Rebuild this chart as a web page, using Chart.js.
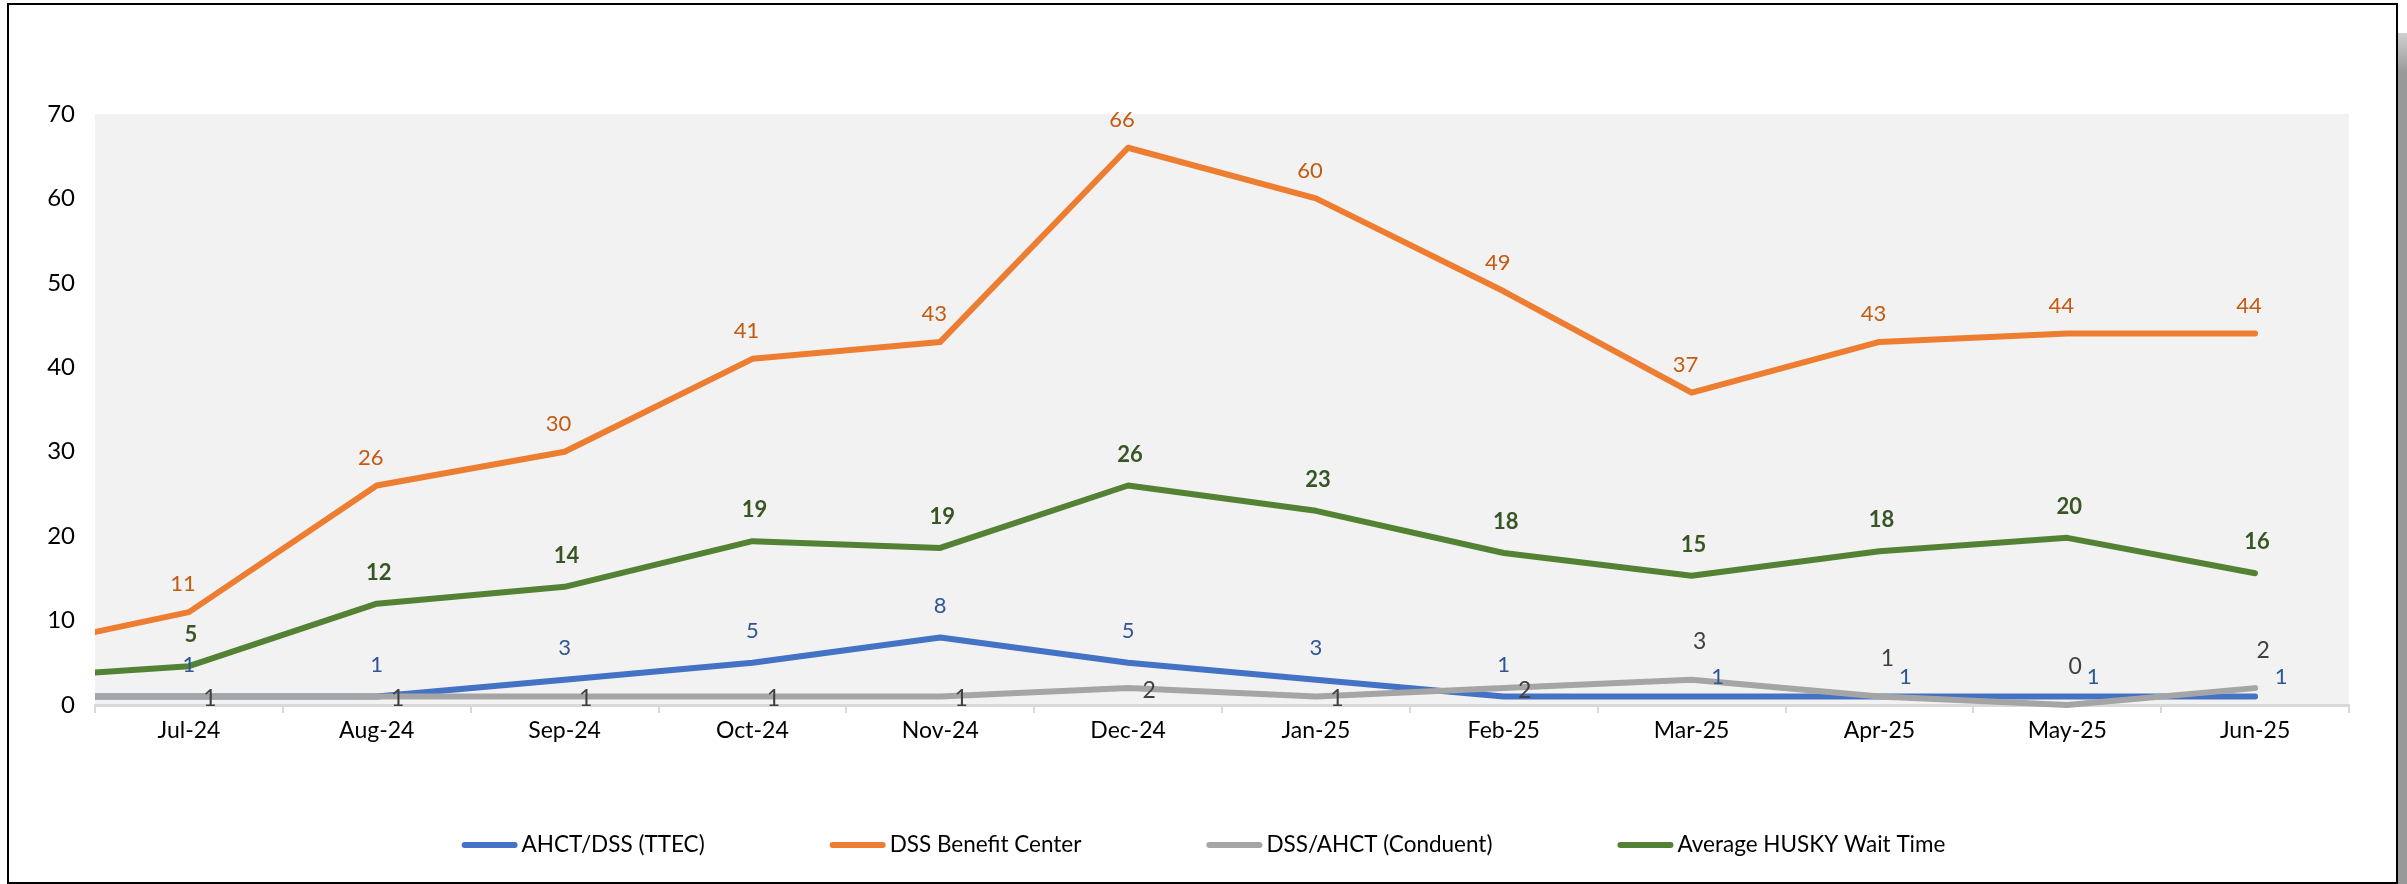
<!DOCTYPE html>
<html>
<head>
<meta charset="utf-8">
<script src="https://cdn.jsdelivr.net/npm/chart.js@4.4.1/dist/chart.umd.min.js"></script>
<style>
  html, body { margin: 0; padding: 0; background: #fff; }
  #frame { position: absolute; left: 7px; top: 3px; width: 2387px; height: 877px; border: 2px solid #000; }
  #shadow { position: absolute; left: 2398px; top: 33px; width: 9px; height: 851px; background: linear-gradient(#d0d0d0, #999 40px, #999); }
  #wrap { position: absolute; left: 0; top: 0; width: 2407px; height: 884px; }
</style>
</head>
<body>
<div id="frame"></div>
<div id="shadow"></div>
<div id="wrap"><canvas id="chart"></canvas></div>
<script>
// first month sits just off the left edge, only its line segment shows
const months = ['Jun-24', 'Jul-24', 'Aug-24', 'Sep-24', 'Oct-24', 'Nov-24', 'Dec-24',
                'Jan-25', 'Feb-25', 'Mar-25', 'Apr-25', 'May-25', 'Jun-25']
const ahctDss = [1, 1, 1, 3, 5, 8, 5, 3, 1, 1, 1, 1, 1]
const dssBenefitCenter = [6.3, 11, 26, 30, 41, 43, 66, 60, 49, 37, 43, 44, 44]
const dssConduent = [1, 1, 1, 1, 1, 1, 2, 1, 2, 3, 1, 0, 2]
const huskyWait = [3.1, 4.6, 12, 14, 19.4, 18.6, 26, 23, 18, 15.3, 18.2, 19.8, 15.6]
const seriesNames = ['AHCT/DSS (TTEC)', 'DSS Benefit Center', 'DSS/AHCT (Conduent)', 'Average HUSKY Wait Time']
const yMin = 0
const yMax = 70
const yStep = 10

const FONT = 'Lato, "Open Sans", sans-serif'

// fill plot area grey
const plotBg = {
    id: 'plotBg',
    beforeDraw(chart) {
        const {ctx, chartArea: a} = chart
        ctx.save()
        ctx.fillStyle = '#f2f2f2'
        ctx.fillRect(a.left, a.top, a.right - a.left, a.bottom - a.top)
        ctx.restore()
    }
}

// value labels next to each point
const valueLabels = {
    id: 'valueLabels',
    afterDatasetsDraw(chart) {
        const {ctx, chartArea: a} = chart
        chart.data.datasets.forEach((ds, i) => {
            const meta = chart.getDatasetMeta(i)
            const st = ds.labelStyle
            ctx.save()
            ctx.font = st.font
            ctx.fillStyle = st.color
            ctx.textAlign = 'center'
            ctx.textBaseline = 'middle'
            meta.data.forEach((pt, j) => {
                if (pt.x < a.left || pt.x > a.right) return
                let dx = st.dx, dy = st.dy
                if (st.later && j >= st.later.from) {
                    dx = st.later.dx
                    dy = st.later.dy
                }
                ctx.fillText(String(Math.round(ds.data[j])), pt.x + dx, pt.y + dy)
            })
            ctx.restore()
        })
    }
}

// legend row drawn by hand so the gaps match
const lineLegend = {
    id: 'lineLegend',
    afterDraw(chart) {
        const ctx = chart.ctx
        const sets = chart.data.datasets
        const lineLen = 56, gapText = 4, gapItem = 125, y = 845
        ctx.save()
        ctx.font = '22.5px ' + FONT
        const widths = sets.map(ds => ctx.measureText(ds.label).width)
        let total = widths.reduce((s, w) => s + w + lineLen + gapText, 0) + gapItem * (sets.length - 1)
        let x = chart.width / 2 - total / 2
        sets.forEach((ds, i) => {
            ctx.strokeStyle = ds.borderColor
            ctx.lineWidth = 6
            ctx.lineCap = 'round'
            ctx.beginPath()
            ctx.moveTo(x + 3, y)
            ctx.lineTo(x + lineLen - 3, y)
            ctx.stroke()
            ctx.fillStyle = '#000'
            ctx.textBaseline = 'middle'
            ctx.fillText(ds.label, x + lineLen + gapText, y)
            x += lineLen + gapText + widths[i] + gapItem
        })
        ctx.restore()
    }
}

function makeSet(name, values, color, order, labelStyle) {
    return {
        label: name,
        data: values,
        borderColor: color,
        backgroundColor: color,
        borderWidth: 6,
        borderCapStyle: 'round',
        borderJoinStyle: 'round',
        pointRadius: 0,
        tension: 0,
        order: order,
        clip: {left: 0, right: 0, top: 10, bottom: 10},
        labelStyle: labelStyle
    }
}

window.addEventListener('load', () => {
    const ctx = document.getElementById('chart').getContext('2d')
    new Chart(ctx, {
        type: 'line',
        data: {
            labels: months,
            datasets: [
                makeSet(seriesNames[0], ahctDss, '#4472c4', 3,
                    {font: '22px ' + FONT, color: '#2f5597', dx: 0, dy: -32,
                     later: {from: 9, dx: 26, dy: -20}}),
                makeSet(seriesNames[1], dssBenefitCenter, '#ed7d31', 2,
                    {font: '22px ' + FONT, color: '#c55a11', dx: -6, dy: -28}),
                makeSet(seriesNames[2], dssConduent, '#a5a5a5', 1,
                    {font: '23px ' + FONT, color: '#404040', dx: 21, dy: 2,
                     later: {from: 9, dx: 8, dy: -38}}),
                makeSet(seriesNames[3], huskyWait, '#548235', 0,
                    {font: 'bold 22px ' + FONT, color: '#375623', dx: 2, dy: -31})
            ]
        },
        options: {
            responsive: true,
            maintainAspectRatio: false,
            animation: false,
            layout: {padding: {top: 114, left: 0, right: 58, bottom: 119}},
            plugins: {
                legend: {display: false},
                tooltip: {enabled: false}
            },
            scales: {
                x: {
                    min: 'Jul-24',
                    offset: true,
                    afterFit: (s) => { s.height = 60 },
                    border: {display: true, color: '#d9d9d9', width: 3},
                    grid: {display: true, offset: true, drawOnChartArea: false, drawTicks: true,
                           tickLength: 8, color: '#d9d9d9', lineWidth: 2},
                    ticks: {color: '#000', padding: 4, font: {family: FONT, size: 23}, maxRotation: 0}
                },
                y: {
                    min: yMin,
                    max: yMax,
                    afterFit: (s) => { s.width = 95 },
                    border: {display: false},
                    grid: {display: false, drawTicks: false},
                    ticks: {stepSize: yStep, color: '#000', padding: 20, font: {family: FONT, size: 24}}
                }
            }
        },
        plugins: [plotBg, valueLabels, lineLegend]
    })
})
</script>
</body>
</html>
